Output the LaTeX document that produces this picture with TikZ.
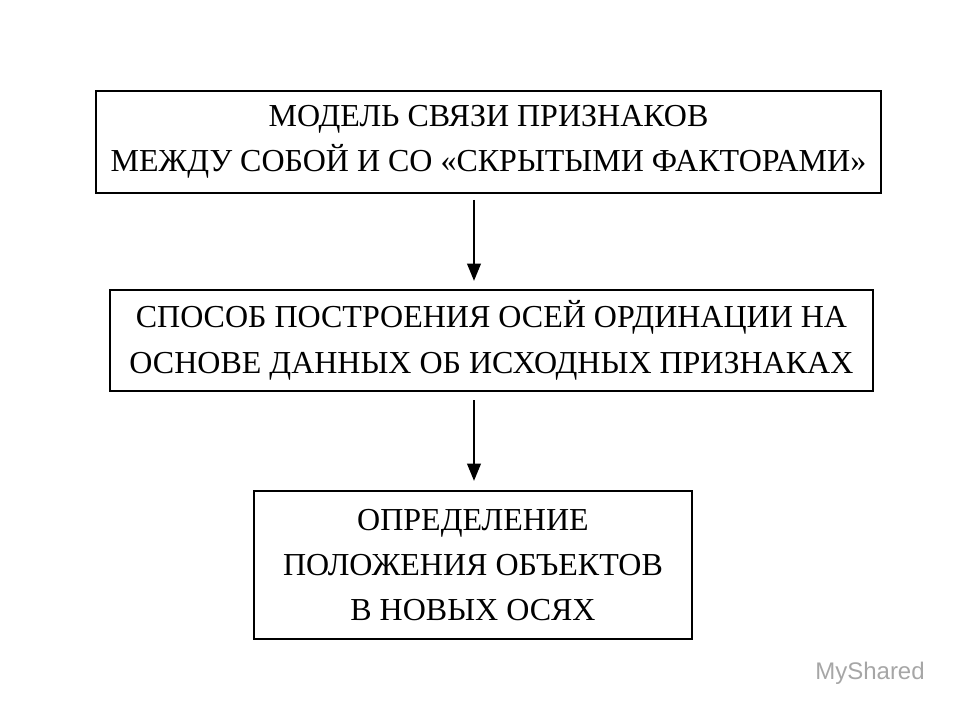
\documentclass[tikz,border=0pt]{standalone}
\usepackage{fontspec}
\setmainfont{Liberation Serif}
\newfontfamily\wmfont{Liberation Sans}
\usetikzlibrary{arrows.meta}
\begin{document}
\begin{tikzpicture}[x=0.75pt,y=-0.75pt,
  box/.style={draw,line width=0.9pt,align=center,inner sep=0pt,font=\fontsize{24}{34}\selectfont},
  arr/.style={line width=2pt,-{Triangle[length=13pt,width=10pt]}}]
\useasboundingbox (0,0) rectangle (960,720);
\node[box,minimum width=785*0.75pt,minimum height=102*0.75pt] (a) at (488.5,142)
 {МОДЕЛЬ СВЯЗИ ПРИЗНАКОВ\\МЕЖДУ СОБОЙ И СО «СКРЫТЫМИ ФАКТОРАМИ»};
\node[box,minimum width=763*0.75pt,minimum height=101*0.75pt] (b) at (491.5,340.5)
 {СПОСОБ ПОСТРОЕНИЯ ОСЕЙ ОРДИНАЦИИ НА\\ОСНОВЕ ДАННЫХ ОБ ИСХОДНЫХ ПРИЗНАКАХ};
\node[box,minimum width=438*0.75pt,minimum height=148*0.75pt] (c) at (473,565)
 {ОПРЕДЕЛЕНИЕ\\ПОЛОЖЕНИЯ ОБЪЕКТОВ\\В НОВЫХ ОСЯХ};
\coordinate (a1) at (474,200); \coordinate (a2) at (474,281);
\coordinate (b1) at (474,400); \coordinate (b2) at (474,481);
\draw[arr] (a1) -- (a2);
\draw[arr] (b1) -- (b2);
\node[text=gray!70,font=\wmfont\fontsize{18}{20}\selectfont] (wm) at (870,673) {MyShared};
\end{tikzpicture}
\end{document}
